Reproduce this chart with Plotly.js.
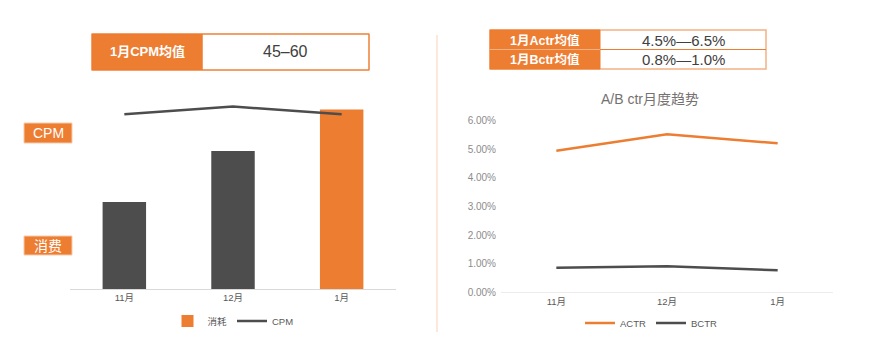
<!DOCTYPE html>
<html><head><meta charset="utf-8">
<script src="https://cdn.plot.ly/plotly-3.0.1.min.js"></script>
<style>html,body{margin:0;padding:0;background:#fff}#chart{width:869px;height:358px}</style>
</head><body><div id="chart"></div>
<script>
// ---- data ----
const months = ['11月', '12月', '1月'];
const spend = [4.6, 7.3, 9.5];          // 消耗 (relative)
const cpm = [55.5, 57.9, 55.5];         // CPM
const actr = [0.0495, 0.0553, 0.0521];  // ACTR
const bctr = [0.0086, 0.0091, 0.0077];  // BCTR
const cpmTableLabel = '1月CPM均值';
const cpmTableValue = '45–60';
const ctrTableLabels = ['1月Actr均值', '1月Bctr均值'];
const ctrTableValues = ['4.5%—6.5%', '0.8%—1.0%'];
const sideLabels = ['CPM', '消费'];
const rightTitle = 'A/B ctr月度趋势';

// ---- helpers ----
const W = 869, H = 358;
const px = x => x / W;
const py = y => 1 - y / H;
const ORANGE = '#ED7D31', DARK = '#4d4d4d';
const FONT = '"Liberation Sans", Arial, "Noto Sans CJK SC", sans-serif';

const traces = [
  {type: 'bar', x: months.slice(0, 2), y: spend.slice(0, 2), xaxis: 'x', yaxis: 'y',
   marker: {color: DARK}, width: 0.4, showlegend: false, hoverinfo: 'skip'},
  {type: 'bar', x: [months[2]], y: [spend[2]], xaxis: 'x', yaxis: 'y', name: '消耗',
   marker: {color: ORANGE}, width: 0.4, legend: 'legend', hoverinfo: 'skip'},
  {type: 'scatter', mode: 'lines', x: months, y: cpm, xaxis: 'x', yaxis: 'y3', name: 'CPM',
   line: {color: DARK, width: 2.5}, legend: 'legend', hoverinfo: 'skip'},
  {type: 'scatter', mode: 'lines', x: months, y: actr, xaxis: 'x2', yaxis: 'y2', name: 'ACTR',
   line: {color: ORANGE, width: 2.5}, legend: 'legend2', hoverinfo: 'skip'},
  {type: 'scatter', mode: 'lines', x: months, y: bctr, xaxis: 'x2', yaxis: 'y2', name: 'BCTR',
   line: {color: DARK, width: 2.5}, legend: 'legend2', hoverinfo: 'skip'}
];

const catAxis = (dom, anchor, lc) => ({
  domain: dom, anchor: anchor, type: 'category', categoryorder: 'array', categoryarray: months,
  range: [-0.5, 2.5], showline: true, linecolor: lc, linewidth: 1, ticks: '',
  tickfont: {size: 9.5, color: '#595959', family: FONT}, showgrid: false, zeroline: false, fixedrange: true
});

const shapes = [];
const annotations = [];
function rect(x0, y0, x1, y1, fill, line, lw) {
  shapes.push({type: 'rect', xref: 'paper', yref: 'paper', x0: px(x0), x1: px(x1), y0: py(y1), y1: py(y0),
    fillcolor: fill, line: {color: line, width: lw === undefined ? 1 : lw}, layer: 'above'});
}
function text(t, x, y, size, color, bold, xanchor) {
  annotations.push({xref: 'paper', yref: 'paper', x: px(x), y: py(y), text: bold ? '<b>' + t + '</b>' : t,
    showarrow: false, xanchor: xanchor || 'center', yanchor: 'middle',
    font: {size: size, color: color, family: FONT}});
}

// left table
rect(92, 34, 369, 70, '#ffffff', '#F4B183', 1.5);
rect(92, 34, 202, 70, ORANGE, ORANGE, 1);
rect(202, 34, 369, 70, 'rgba(0,0,0,0)', ORANGE, 1);
text(cpmTableLabel, 147, 52, 13, '#ffffff', true);
text(cpmTableValue, 285, 52, 16, '#404040', false);

// right table
rect(490, 30, 766, 69, '#ffffff', '#F4B183', 1.5);
rect(490, 30, 600, 69, ORANGE, ORANGE, 1);
shapes.push({type: 'line', xref: 'paper', yref: 'paper', x0: px(490), x1: px(766), y0: py(49.5), y1: py(49.5),
  line: {color: ORANGE, width: 1.2}, layer: 'above'});
shapes.push({type: 'line', xref: 'paper', yref: 'paper', x0: px(490), x1: px(600), y0: py(49.5), y1: py(49.5),
  line: {color: '#F4B183', width: 1}, layer: 'above'});
text(ctrTableLabels[0], 545, 40, 12.5, '#ffffff', true);
text(ctrTableLabels[1], 545, 60, 12.5, '#ffffff', true);
text(ctrTableValues[0], 683, 40, 15, '#404040', false);
text(ctrTableValues[1], 683, 60, 15, '#404040', false);

// separator
shapes.push({type: 'line', xref: 'paper', yref: 'paper', x0: px(437), x1: px(437), y0: py(35), y1: py(332),
  line: {color: '#FBE0D0', width: 1.5}});

// side label boxes
rect(24, 123, 72, 143, ORANGE, '#F8CBAD', 1);
rect(24, 236, 72, 255, ORANGE, '#F8CBAD', 1);
text(sideLabels[0], 48, 133, 14, '#ffffff', false);
text(sideLabels[1], 48, 245.5, 14, '#ffffff', false);

// right title
text(rightTitle, 650, 99, 14, '#767171', false);

const layout = {
  width: W, height: H, margin: {l: 0, r: 0, t: 0, b: 0},
  paper_bgcolor: '#ffffff', plot_bgcolor: 'rgba(0,0,0,0)',
  font: {family: FONT}, barmode: 'overlay', hovermode: false,
  xaxis: catAxis([px(70), px(396)], 'y', '#d9d9d9'),
  yaxis: {domain: [py(289), py(100)], range: [0, 10], visible: false, fixedrange: true},
  yaxis3: {overlaying: 'y', side: 'right', range: [0, 60], visible: false, fixedrange: true},
  xaxis2: catAxis([px(501), px(833)], 'y2', '#ececec'),
  yaxis2: {domain: [py(292.3), py(120.7)], anchor: 'x2', range: [0, 0.06], tickformat: '.2%', dtick: 0.01,
    tickfont: {size: 10, color: '#8c8c8c', family: FONT}, showgrid: false, zeroline: false, showline: false,
    ticks: '', ticklabelstandoff: 4, fixedrange: true},
  legend: {orientation: 'h', x: px(233), xanchor: 'center', y: py(321), yanchor: 'middle',
    font: {size: 9.5, color: '#595959', family: FONT}, bgcolor: 'rgba(0,0,0,0)', itemwidth: 30, tracegroupgap: 0},
  legend2: {orientation: 'h', x: px(651), xanchor: 'center', y: py(323), yanchor: 'middle',
    font: {size: 9.5, color: '#595959', family: FONT}, bgcolor: 'rgba(0,0,0,0)', itemwidth: 30},
  shapes: shapes, annotations: annotations
};

Plotly.newPlot('chart', traces, layout, {displayModeBar: false, staticPlot: true});
</script>
</body></html>
